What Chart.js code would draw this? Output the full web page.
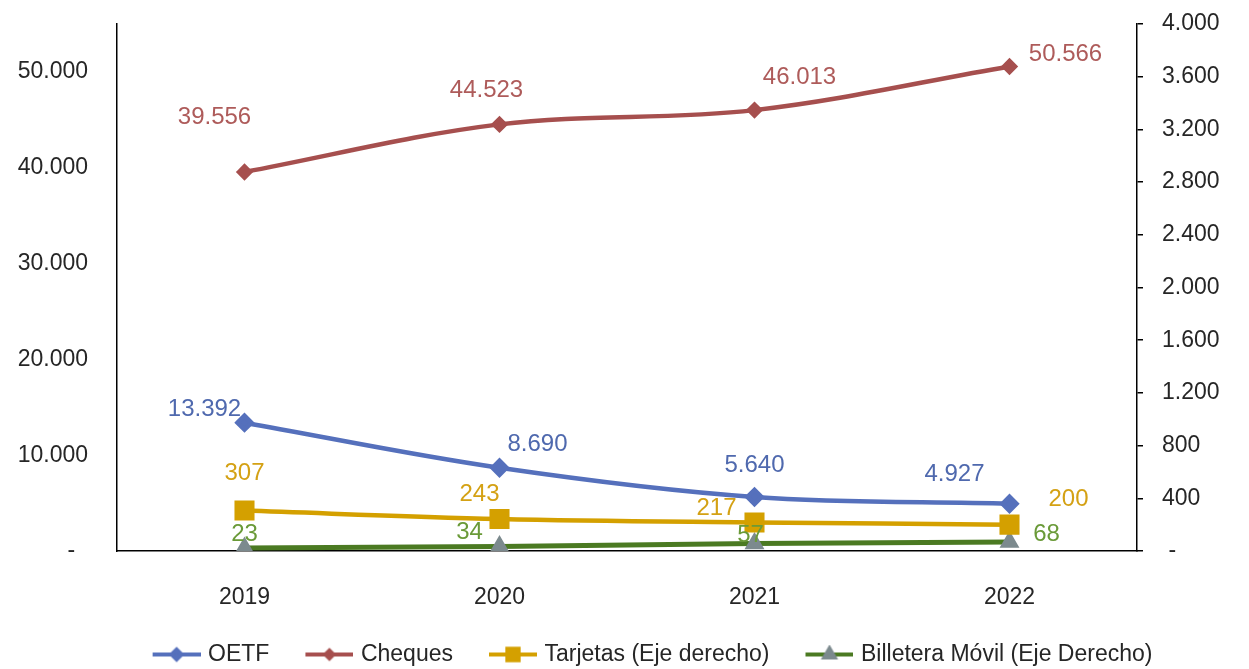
<!DOCTYPE html>
<html>
<head>
<meta charset="utf-8">
<title>Medios de pago</title>
<script src="https://cdn.jsdelivr.net/npm/chart.js@4.4.1/dist/chart.umd.min.js"></script>
<style>
  html, body { margin: 0; padding: 0; background: #fff; }
  #wrap { width: 1249px; height: 669px; position: relative; }
</style>
</head>
<body>
<div id="wrap"><canvas id="chart"></canvas></div>
<script>
// datos
const years = ["2019", "2020", "2021", "2022"];
const oetf = [13392, 8690, 5640, 4927];
const cheques = [39556, 44523, 46013, 50566];
const tarjetas = [307, 243, 217, 200];
const billetera = [23, 34, 57, 68];
const seriesNames = ["OETF", "Cheques", "Tarjetas (Eje derecho)", "Billetera Móvil (Eje Derecho)"];
const leftTicks = [0, 10000, 20000, 30000, 40000, 50000];
const rightTicks = [0, 400, 800, 1200, 1600, 2000, 2400, 2800, 3200, 3600, 4000];

const FONT = '"Liberation Sans", Arial, sans-serif';
const TEXT = "#262626";

// 1000000 -> 1.000.000
const fmt = (v) => String(v).replace(/\B(?=(\d{3})+(?!\d))/g, ".");

// icono de leyenda: línea con marcador, con un poco de aire a la izquierda
function legendIcon(lineColor, markerColor, style, radius) {
  const c = document.createElement("canvas");
  c.width = 58;
  c.height = 20;
  const ctx = c.getContext("2d");
  ctx.strokeStyle = lineColor;
  ctx.lineWidth = 4;
  ctx.beginPath();
  ctx.moveTo(10, 10);
  ctx.lineTo(58, 10);
  ctx.stroke();
  ctx.fillStyle = markerColor;
  ctx.strokeStyle = markerColor;
  Chart.helpers.drawPoint(ctx, { pointStyle: style, radius: radius, borderWidth: 1 }, 34, 10);
  return c;
}

// etiquetas de valor junto a cada punto
const pointLabels = {
  id: "pointLabels",
  afterDatasetsDraw(chart) {
    const ctx = chart.ctx;
    chart.data.datasets.forEach((ds, i) => {
      const meta = chart.getDatasetMeta(i);
      ctx.save();
      ctx.font = "24px " + FONT;
      ctx.fillStyle = ds.labelColor;
      ctx.textAlign = "center";
      ctx.textBaseline = "middle";
      meta.data.forEach((pt, j) => {
        const off = ds.labelOffsets[j];
        ctx.fillText(fmt(ds.data[j]), pt.x + off[0], pt.y + off[1]);
      });
      ctx.restore();
    });
  },
};

// la leyenda original no está centrada exactamente
const legendShift = {
  id: "legendShift",
  afterLayout(chart) {
    if (chart.legend) chart.legend.left += 50;
  },
};

// sin margen extra arriba/abajo por el padding de las etiquetas
const noVPad = (s) => { s.paddingTop = 0; s.paddingBottom = 0; };

const datasets = [
  {
    label: seriesNames[0],
    data: oetf,
    yAxisID: "y",
    borderColor: "#5570BC",
    backgroundColor: "#5570BC",
    borderWidth: 4.5,
    pointStyle: "rectRot",
    pointRadius: 7,
    labelColor: "#4F69AE",
    labelOffsets: [[-40, -13], [38, -23], [0, -32], [-55, -29]],
    icon: legendIcon("#5570BC", "#5570BC", "rectRot", 5),
  },
  {
    label: seriesNames[1],
    data: cheques,
    yAxisID: "y",
    borderColor: "#A64F4E",
    backgroundColor: "#A64F4E",
    borderWidth: 4.5,
    pointStyle: "rectRot",
    pointRadius: 5.5,
    labelColor: "#AE5B5A",
    labelOffsets: [[-30, -55], [-13, -34], [45, -33], [56, -12]],
    icon: legendIcon("#A64F4E", "#A64F4E", "rectRot", 4),
  },
  {
    label: seriesNames[2],
    data: tarjetas,
    yAxisID: "y1",
    borderColor: "#D4A000",
    backgroundColor: "#D4A000",
    borderWidth: 4.5,
    pointStyle: "rect",
    pointRadius: 11,
    labelColor: "#D4A114",
    labelOffsets: [[0, -37], [-20, -25], [-38, -14], [59, -25]],
    icon: legendIcon("#D4A000", "#D4A000", "rect", 8),
  },
  {
    label: seriesNames[3],
    data: billetera,
    yAxisID: "y1",
    borderColor: "#4B7A22",
    backgroundColor: "#7C8A8E",
    pointBorderColor: "#7C8A8E",
    borderWidth: 5,
    pointStyle: "triangle",
    pointRadius: 6.5,
    labelColor: "#6A9A38",
    labelOffsets: [[0, -14], [-30, -14], [-4, -8], [37, -8]],
    icon: legendIcon("#4B7A22", "#7C8A8E", "triangle", 6),
  },
];

new Chart(document.getElementById("chart"), {
  type: "line",
  data: { labels: years, datasets },
  options: {
    responsive: true,
    maintainAspectRatio: false,
    animation: false,
    layout: { padding: { top: 24, left: 0, right: 0, bottom: 0 } },
    elements: {
      line: { tension: 0.35, fill: false },
      point: { borderWidth: 1 },
    },
    plugins: {
      tooltip: { enabled: false },
      legend: {
        position: "bottom",
        maxHeight: 56,
        labels: {
          usePointStyle: true,
          pointStyleWidth: 50,
          padding: 30,
          color: TEXT,
          font: { family: FONT, size: 23 },
          generateLabels: (chart) =>
            chart.data.datasets.map((ds, i) => ({
              text: ds.label,
              pointStyle: ds.icon,
              fillStyle: ds.borderColor,
              strokeStyle: ds.borderColor,
              lineWidth: 0,
              hidden: false,
              datasetIndex: i,
              fontColor: TEXT,
            })),
        },
      },
    },
    scales: {
      x: {
        offset: true,
        grid: { display: false, drawTicks: false },
        border: { display: true, color: "#000", width: 1.5 },
        ticks: { color: TEXT, font: { family: FONT, size: 23 }, padding: 33, maxRotation: 0 },
        afterFit: (s) => { s.height = 62; },
      },
      y: {
        position: "left",
        min: 0,
        max: 55000,
        grid: { display: false, drawTicks: false },
        border: { display: true, color: "#000", width: 1.5 },
        ticks: {
          padding: 29,
          color: TEXT,
          font: { family: FONT, size: 23 },
          callback: (v) => (v === 0 ? "-  " : fmt(v)),
        },
        afterBuildTicks: (s) => { s.ticks = leftTicks.map((v) => ({ value: v })); },
        afterFit: (s) => { s.width = 117; noVPad(s); },
      },
      y1: {
        position: "right",
        min: 0,
        max: 4000,
        grid: { display: true, drawOnChartArea: false, drawTicks: true, tickLength: 6, color: "#000", lineWidth: 1.5 },
        border: { display: true, color: "#000", width: 1.5 },
        ticks: {
          padding: 19,
          color: TEXT,
          font: { family: FONT, size: 23 },
          callback: (v) => (v === 0 ? " -" : fmt(v)),
        },
        afterBuildTicks: (s) => { s.ticks = rightTicks.map((v) => ({ value: v })); },
        afterFit: (s) => { s.width = 112; noVPad(s); },
      },
    },
  },
  plugins: [pointLabels, legendShift],
});
</script>
</body>
</html>
